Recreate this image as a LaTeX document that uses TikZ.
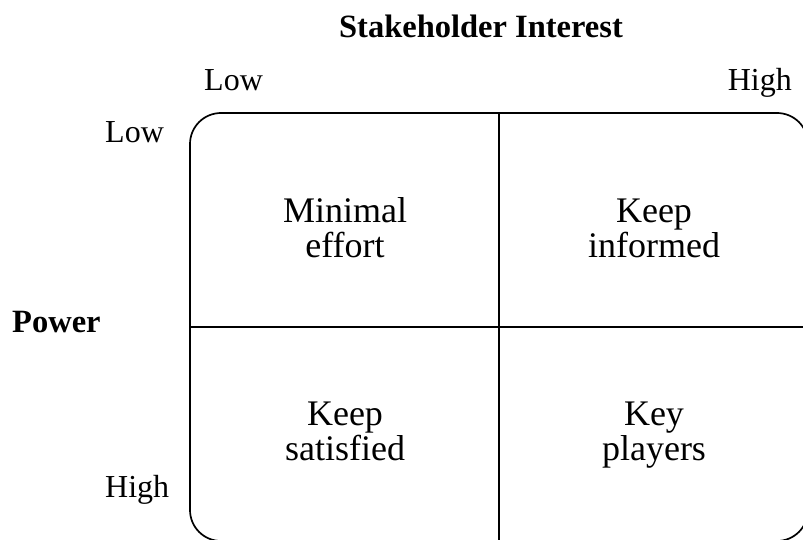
\documentclass[tikz,border=0pt]{standalone}
\usepackage{fontspec}
\setmainfont{Liberation Serif}
\begin{document}
\begin{tikzpicture}[x=1pt,y=-1pt,
  axislabel/.style={font=\fontsize{32}{38}\selectfont, inner sep=0pt},
  axistitle/.style={font=\fontsize{32.5}{38}\bfseries\selectfont, inner sep=0pt},
  cell/.style={font=\fontsize{36}{35}\selectfont, align=center, inner sep=0pt, anchor=base},
  frame/.style={line width=1.7pt, black}]
  \useasboundingbox (0,0) rectangle (803,540);
  \clip (0,0) rectangle (803,540);

  % grid corners and dividers
  \coordinate (tl) at (190,113);
  \coordinate (br) at (808,541);
  \coordinate (vtop) at (499,113);
  \coordinate (vbot) at (499,541);
  \coordinate (hleft) at (190,327);
  \coordinate (hright) at (808,327);

  \draw[frame, rounded corners=31pt] (tl) rectangle (br);
  \draw[frame] (vtop) -- (vbot);
  \draw[frame] (hleft) -- (hright);

  % axis titles
  \node[axistitle, anchor=base] (interest) at (481,38) {Stakeholder Interest};
  \node[axistitle, anchor=base west] (power) at (12,332) {Power};

  % axis ends
  \node[axislabel, anchor=base west] (lowx) at (204,91) {Low};
  \node[axislabel, anchor=base east] (highx) at (792,91) {High};
  \node[axislabel, anchor=base west] (lowy) at (105,143) {Low};
  \node[axislabel, anchor=base west] (highy) at (105,497) {High};

  % quadrants (base = baseline of the last line)
  \node[cell] (q1) at (345,257) {Minimal\\effort};
  \node[cell] (q2) at (654,257) {Keep\\informed};
  \node[cell] (q3) at (345,460) {Keep\\satisfied};
  \node[cell] (q4) at (654,460) {Key\\players};
\end{tikzpicture}
\end{document}
